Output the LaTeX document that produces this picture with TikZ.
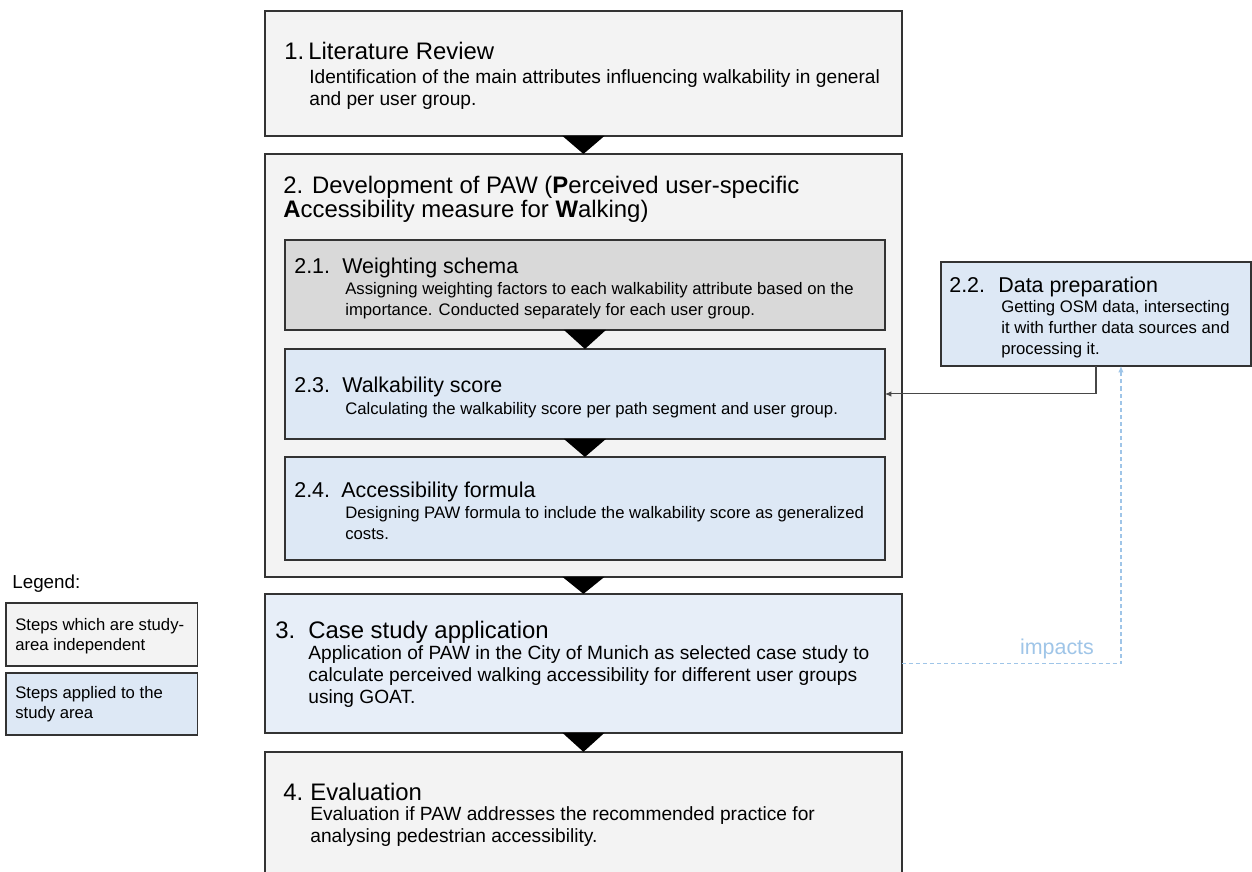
\documentclass[tikz,border=0pt]{standalone}
\usepackage{fontspec}
\setmainfont{Liberation Sans}
\usepackage{xcolor}
\definecolor{CLine}{HTML}{333333}
\definecolor{CGrayLight}{HTML}{F3F3F3}
\definecolor{CGrayMid}{HTML}{D9D9D9}
\definecolor{CBlueLight}{HTML}{DDE8F5}
\definecolor{CBlueSoft}{HTML}{E7EEF8}
\definecolor{CImpact}{HTML}{9FC5E8}
\usepackage{tikz}
\usetikzlibrary{arrows.meta,positioning,calc}
\newcommand{\fMainTitle}{\fontsize{13.6}{13.6}\selectfont}
\newcommand{\fMainBody}{\fontsize{10.9}{12.3}\selectfont}
\newcommand{\fSubTitle}{\fontsize{12.2}{14}\selectfont}
\newcommand{\fSubBody}{\fontsize{9.5}{11.7}\selectfont}
\tikzstyle{mainBox}=[rectangle, draw=CLine, line width=0.8pt, fill=CGrayLight,
  minimum width=12.74cm, inner sep=0pt, outer sep=0pt]
\tikzstyle{subBox}=[rectangle, draw=CLine, line width=0.8pt, fill=CBlueLight,
  minimum width=12cm, inner sep=0pt, outer sep=0pt]
\tikzstyle{legendBox}=[rectangle, draw=CLine, line width=0.6pt,
  minimum width=3.84cm, inner sep=0pt, outer sep=0pt, anchor=north west]
\tikzstyle{mainTitle}=[anchor=base west, inner sep=0pt, font=\fMainTitle]
\tikzstyle{mainText}=[anchor=base west, inner sep=0pt, align=left, font=\fMainBody]
\tikzstyle{subTitle}=[anchor=base west, inner sep=0pt, font=\fSubTitle]
\tikzstyle{subText}=[anchor=base west, inner sep=0pt, align=left, font=\fSubBody]
\tikzstyle{dataArr}=[-{Latex[length=1.3mm,width=1.1mm]}, line width=0.6pt, draw=CLine!90]
\tikzstyle{impactArr}=[-{Latex[length=1.3mm,width=1.1mm]}, line width=0.6pt, draw=CImpact,
  dash pattern=on 2.3pt off 1.7pt]

\begin{document}
\begin{tikzpicture}[x=0.02cm, y=-0.02cm]
\useasboundingbox (0,0) rectangle (1252,872);
\clip (0,0) rectangle (1252,872);
\fill[white] (0,0) rectangle (1252,872);
% main steps
\node[mainBox, minimum height=2.5cm, anchor=north west] (lit) at (265,11) {};
\node[mainBox, minimum height=8.46cm, below=0.36cm of lit] (dev) {};
\node[mainBox, minimum height=2.78cm, fill=CBlueSoft, below=0.34cm of dev] (case) {};
\node[mainBox, minimum height=3cm, below=0.38cm of case] (eval) {};
% sub steps of 2
\node[subBox, minimum height=1.8cm, fill=CGrayMid, anchor=north west] (weight) at (285,240) {};
\node[subBox, minimum height=1.8cm, below=0.38cm of weight] (score) {};
\node[subBox, minimum height=2.06cm, below=0.36cm of score] (formula) {};
\node[subBox, minimum width=6.2cm, minimum height=2.08cm, anchor=north west] (data) at (941,262) {};
% chevrons
\foreach \a/\b in {lit/dev, dev/case, case/eval, weight/score, score/formula}
  \fill[black] ($(\a.south)+(-21,0)$) -- ($(\a.south)+(21,0)$) -- (\a.south |- \b.north) -- cycle;
% texts (multi-line nodes sit on the baseline of their last line)
\node[mainTitle] (litNum) at (284,59) {1.};
\node[mainTitle] (litTitle) at (308,59) {Literature Review};
\node[mainText] (litText) at (309,105) {Identification of the main attributes influencing walkability in general\\and per user group.};
\node[mainTitle, align=left, font=\fontsize{13.6}{13.6}\selectfont] (devTitle) at (283,217)
  {2. Development of PAW (\textbf{P}erceived user-specific\\\textbf{A}ccessibility measure for \textbf{W}alking)};
\node[subTitle] (weightNum) at (294,273) {2.1.};
\node[subTitle] (weightTitle) at (342,273) {Weighting schema};
\node[subText] (weightText) at (345,315) {Assigning weighting factors to each walkability attribute based on the\\importance. Conducted separately for each user group.};
\node[subTitle] (scoreNum) at (294,392) {2.3.};
\node[subTitle] (scoreTitle) at (342,392) {Walkability score};
\node[subText] (scoreText) at (345,414) {Calculating the walkability score per path segment and user group.};
\node[subTitle] (formulaNum) at (294,497) {2.4.};
\node[subTitle] (formulaTitle) at (341,497) {Accessibility formula};
\node[subText] (formulaText) at (345,539) {Designing PAW formula to include the walkability score as generalized\\costs.};
\node[subTitle] (dataNum) at (949,292) {2.2.};
\node[subTitle] (dataTitle) at (998,292) {Data preparation};
\node[subText] (dataText) at (1001,354) {Getting OSM data, intersecting\\it with further data sources and\\processing it.};
\node[mainTitle] (caseNum) at (275,638) {3.};
\node[mainTitle] (caseTitle) at (308,638) {Case study application};
\node[mainText] (caseText) at (308,703) {Application of PAW in the City of Munich as selected case study to\\calculate perceived walking accessibility for different user groups\\using GOAT.};
\node[mainTitle] (evalNum) at (283,800) {4.};
\node[mainTitle] (evalTitle) at (310,800) {Evaluation};
\node[mainText] (evalText) at (310,842) {Evaluation if PAW addresses the recommended practice for\\analysing pedestrian accessibility.};
% legend
\node[anchor=base west, inner sep=0pt, font=\fontsize{10.7}{12}\selectfont] (legTitle) at (12,588) {Legend:};
\node[legendBox, minimum height=1.26cm, fill=CGrayLight] (legGray) at (6,603) {};
\node[legendBox, minimum height=1.24cm, fill=CBlueLight] (legBlue) at (6,673) {};
\node[subText, font=\fontsize{9.5}{11.3}\selectfont] (legGrayText) at (15,650) {Steps which are study-\\area independent};
\node[subText, font=\fontsize{9.5}{11.3}\selectfont] (legBlueText) at (15,718) {Steps applied to the\\study area};
% connectors
\draw[dataArr] (data.south) |- (score.east);
\draw[impactArr] (case.east) -| node[pos=0.354, anchor=base, yshift=4.8pt, inner sep=0pt,
  text=CImpact, font=\fSubTitle] (impactLabel) {impacts} ($(data.south)+(25,0)$);
\end{tikzpicture}
\end{document}
